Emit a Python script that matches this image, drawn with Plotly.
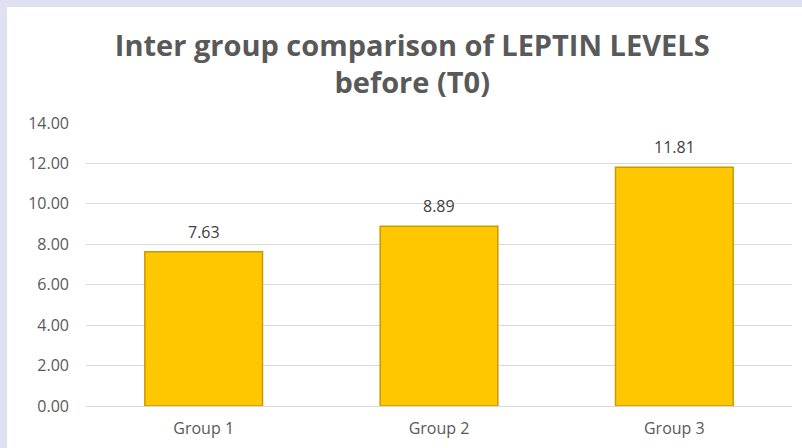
import plotly.graph_objects as go

categories = ["Group 1", "Group 2", "Group 3"]
values = [7.63, 8.89, 11.81]
labels = ["7.63", "8.89", "11.81"]
tick_vals = [0, 2, 4, 6, 8, 10, 12, 14]
tick_text = ["0.00", "2.00", "4.00", "6.00", "8.00", "10.00", "12.00", "14.00"]

fig = go.Figure()
fig.add_trace(go.Bar(
    x=categories, y=values,
    marker=dict(color="#FFC700", line=dict(color="#C99A00", width=1.5)),
    width=0.5,
))
for c, v, t in zip(categories, values, labels):
    fig.add_annotation(x=c, y=v, text=t, showarrow=False, yanchor="bottom",
                       yshift=7, font=dict(family="Open Sans", size=16, color="#404040"))

fig.update_layout(
    width=802, height=448,
    margin=dict(l=86, r=10, t=123, b=42),
    paper_bgcolor="#DDE1F0",
    plot_bgcolor="rgba(0,0,0,0)",
    showlegend=False,
    title=dict(
        text="Inter group comparison of LEPTIN LEVELS<br>before (T0)",
        x=0.514, xanchor="center", y=0.876, yanchor="middle",
        font=dict(family="Open Sans", size=29, color="#595959", weight="bold"),
    ),
    shapes=[dict(type="rect", xref="paper", yref="paper", layer="below",
                 x0=-0.1119, x1=1.02, y0=-0.2, y1=1.41,
                 fillcolor="white", line=dict(width=0))],
    xaxis=dict(
        showgrid=False, showline=True, linecolor="#D9D9D9", linewidth=1,
        tickfont=dict(family="Open Sans", size=16, color="#595959"),
        ticks="", ticklabelstandoff=8,
    ),
    yaxis=dict(
        range=[0, 14], tickvals=tick_vals, ticktext=tick_text,
        showgrid=True, gridcolor="#D9D9D9", gridwidth=1, zeroline=False,
        tickfont=dict(family="Open Sans", size=16, color="#595959"),
        ticks="", ticklabelstandoff=16,
    ),
)

fig.write_html("out.html")
